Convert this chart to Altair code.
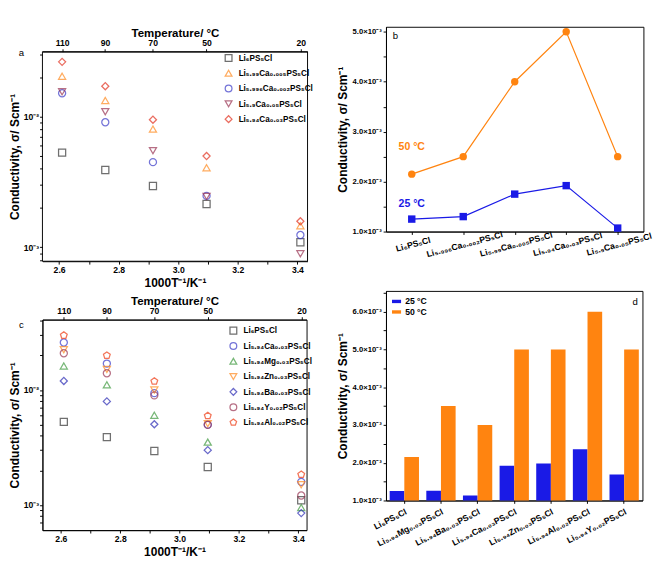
import altair as alt
import pandas as pd

FONT = "Liberation Sans"

# ---------------- data ----------------
inv_T = [2.610, 2.755, 2.915, 3.095, 3.410]          # 1000/T (K^-1)
temp_ticks = [2.610, 2.754, 2.914, 3.095, 3.411]     # positions of 110, 90, 70, 50, 20 °C

# panel a
a_names = ["Li₆PS₅Cl", "Li₅.₉₉Ca₀.₀₀₅PS₅Cl", "Li₅.₉₉₆Ca₀.₀₀₂PS₅Cl",
           "Li₅.₉Ca₀.₀₅PS₅Cl", "Li₅.₉₄Ca₀.₀₃PS₅Cl"]
a_li6 = [5.30e-3, 3.90e-3, 2.94e-3, 2.14e-3, 1.09e-3]
a_ca0005 = [2.04e-2, 1.33e-2, 8.03e-3, 4.06e-3, 1.46e-3]
a_ca0002 = [1.51e-2, 9.06e-3, 4.48e-3, 2.47e-3, 1.24e-3]
a_ca005 = [1.55e-2, 1.09e-2, 5.48e-3, 2.45e-3, 8.9e-4]
a_ca003 = [2.63e-2, 1.71e-2, 9.47e-3, 4.99e-3, 1.58e-3]
a_colors = ["#333333", "#ff8a1e", "#3a3ac8", "#993352", "#e2301e"]
a_shapes = ["square", "triangle-up", "circle", "triangle-down", "diamond"]

# panel c
c_names = ["Li₆PS₅Cl", "Li₅.₉₄Ca₀.₀₃PS₅Cl", "Li₅.₉₄Mg₀.₀₃PS₅Cl", "Li₅.₉₄Zn₀.₀₃PS₅Cl",
           "Li₅.₉₄Ba₀.₀₃PS₅Cl", "Li₅.₉₄Y₀.₀₂PS₅Cl", "Li₅.₉₄Al₀.₀₂PS₅Cl"]
c_li6 = [5.29e-3, 3.89e-3, 2.95e-3, 2.14e-3, 1.10e-3]
c_ca = [2.59e-2, 1.70e-2, 9.4e-3, 5.0e-3, 1.59e-3]
c_mg = [1.62e-2, 1.11e-2, 6.04e-3, 3.52e-3, 9.5e-4]
c_zn = [2.24e-2, 1.51e-2, 1.0e-2, 5.1e-3, 1.50e-3]
c_ba = [1.20e-2, 7.97e-3, 5.04e-3, 3.0e-3, 8.5e-4]
c_y = [2.09e-2, 1.40e-2, 8.99e-3, 4.98e-3, 1.21e-3]
c_al = [2.99e-2, 2.0e-2, 1.19e-2, 5.97e-3, 1.84e-3]
c_colors = ["#333333", "#3a3ac8", "#3f9a3f", "#ff8a1e", "#2a2ab4", "#993352", "#ee3a12"]
PENT = "M0,-1L0.951,-0.309L0.588,0.809L-0.588,0.809L-0.951,-0.309Z"
c_shapes = ["square", "circle", "triangle-up", "triangle-down", "diamond", "circle", PENT]

# panel b
b_cats = ["Li₆PS₅Cl", "Li₅.₉₉₆Ca₀.₀₀₂PS₅Cl", "Li₅.₉₉Ca₀.₀₀₅PS₅Cl",
          "Li₅.₉₄Ca₀.₀₃PS₅Cl", "Li₅.₉Ca₀.₀₅PS₅Cl"]
b_50 = [2.15e-3, 2.50e-3, 4.00e-3, 5.00e-3, 2.50e-3]
b_25 = [1.25e-3, 1.30e-3, 1.75e-3, 1.92e-3, 1.07e-3]
b_temps = ["25 °C", "50 °C"]
b_label_y = [1.54e-3, 2.70e-3]

# panel d
d_cats = ["Li₆PS₅Cl", "Li₅.₉₄Mg₀.₀₃PS₅Cl", "Li₅.₉₄Ba₀.₀₃PS₅Cl", "Li₅.₉₄Ca₀.₀₃PS₅Cl",
          "Li₅.₉₄Zn₀.₀₃PS₅Cl", "Li₅.₉₄Al₀.₀₂PS₅Cl", "Li₅.₉₄Y₀.₀₂PS₅Cl"]
d_25 = [1.25e-3, 1.26e-3, 1.13e-3, 1.92e-3, 1.98e-3, 2.36e-3, 1.69e-3]
d_50 = [2.15e-3, 3.50e-3, 3.00e-3, 5.00e-3, 5.00e-3, 6.00e-3, 5.00e-3]
d_temps = ["25 °C", "50 °C"]

ORANGE = "#ff8410"
BLUE = "#1a1ae6"
YTITLE = "Conductivity, σ/ Scm⁻¹"


def indep(ch):
    return ch.resolve_scale(color="independent", shape="independent").resolve_legend(
        color="independent", shape="independent")


def long_df(names, series):
    rows = []
    for n, vals in zip(names, series):
        for x, v in zip(inv_T, vals):
            rows.append({"series": n, "x": x, "y": v})
    return pd.DataFrame(rows)


def arrhenius(df, names, colors, shapes, ydom, xdom, w, h, letter, leg_top, letter_y, inset=0):
    """inset > 0: the top axis is drawn inside the view, `inset` px below its top edge."""
    xticks = [2.6, 2.7, 2.8, 2.9, 3.0, 3.1, 3.2, 3.3, 3.4]
    ylog = [6e-4, 7e-4, 8e-4, 9e-4, 1e-3, 2e-3, 3e-3, 4e-3, 5e-3, 6e-3, 7e-3, 8e-3, 9e-3,
            1e-2, 2e-2, 3e-2, 4e-2]
    ytop_frame = ydom[2] if len(ydom) > 2 else ydom[1]
    ylog = [v for v in ylog if ydom[0] <= v <= ytop_frame]
    leg_offset = -6
    leg = alt.Legend(orient="top-right", offset=leg_offset, labelFontSize=8.5,
                     labelFont=FONT, labelFontWeight="bold", symbolSize=50, symbolStrokeWidth=1.3,
                     rowPadding=3, padding=0, labelLimit=200, labelOffset=6,
                     title=" ", titleFontSize=10, titlePadding=inset + leg_top - leg_offset - 10)
    yaxis = dict(values=ylog, title=YTITLE, titlePadding=2, labelPadding=1,
                 labelExpr="abs(datum.value-0.01)<1e-6 ? '10⁻²' : abs(datum.value-0.001)<1e-7 ? '10⁻³' : ''")
    if inset:
        yaxis.update(domain=False, titleY=(inset + h) / 2)
    pts = alt.Chart(df).mark_point(filled=False, size=55, strokeWidth=1.3, clip=True).encode(
        x=alt.X("x:Q", scale=alt.Scale(domain=xdom, nice=False, zero=False),
                axis=alt.Axis(values=xticks, title="1000T⁻¹/K⁻¹", titlePadding=2,
                              labelExpr="round(datum.value*10)%2==0 ? format(datum.value,'.1f') : ''")),
        y=alt.Y("y:Q", scale=alt.Scale(type="log", domain=[ydom[0], ydom[1]], nice=False),
                axis=alt.Axis(**yaxis)),
        color=alt.Color("series:N", scale=alt.Scale(domain=names, range=colors), legend=leg),
        shape=alt.Shape("series:N", scale=alt.Scale(domain=names, range=shapes), legend=leg),
    )
    top = alt.Chart(pd.DataFrame({"x": temp_ticks})).mark_rule(strokeOpacity=0).encode(
        x=alt.X("x:Q", scale=alt.Scale(domain=xdom, nice=False, zero=False),
                axis=alt.Axis(orient="top", values=temp_ticks, title="Temperature/ °C",
                              titlePadding=0, labelPadding=1, titleFontSize=12, offset=-inset,
                              labelExpr="round(1000/datum.value-273.15)"))
    )
    lab = alt.Chart(pd.DataFrame({"t": [letter]})).mark_text(
        font=FONT, fontSize=10, align="center", baseline="middle").encode(
        text="t:N", x=alt.value(-22), y=alt.value(letter_y + inset))
    layers = [pts, top, lab]
    props = dict(width=w, height=h)
    if inset:
        frame = alt.Chart(pd.DataFrame({"f": [0]})).mark_rect(
            fillOpacity=0, stroke="black", strokeWidth=1).encode(
            x=alt.value(0), x2=alt.value(w), y=alt.value(inset), y2=alt.value(h))
        layers.append(frame)
        props["view"] = alt.ViewBackground(stroke="transparent")
    return alt.layer(*layers).resolve_scale(x="independent").properties(**props)


# panel a: log domain [bottom, top of view, top of frame]
A_INSET = 26
dfa = long_df(a_names, [a_li6, a_ca0005, a_ca0002, a_ca005, a_ca003])
chart_a = arrhenius(dfa, a_names, a_colors, a_shapes, [7.8e-4, 4.88e-2, 3.06e-2], [2.544, 3.434],
                    277, 219 + A_INSET, "a", 2, 2, inset=A_INSET)

dfc = long_df(c_names, [c_li6, c_ca, c_mg, c_zn, c_ba, c_y, c_al])
chart_c = arrhenius(dfc, c_names, c_colors, c_shapes, [6.04e-4, 4.1e-2], [2.538, 3.428],
                    276, 220, "c", 7, 6)

# ---------------- panel b ----------------
brows = []
for t, vals in zip(b_temps, [b_25, b_50]):
    for cat, v in zip(b_cats, vals):
        brows.append({"cat": cat, "temp": t, "val": v})
dfb = pd.DataFrame(brows)
blab = pd.DataFrame({"cat": [b_cats[0]] * 2, "temp": b_temps, "val": b_label_y})

bx = alt.X("cat:N", sort=b_cats, scale=alt.Scale(type="point", padding=0.5),
           axis=alt.Axis(title=None, labelAngle=345, labelAlign="center", labelBaseline="top",
                         labelFontSize=9, labelPadding=6))
by = alt.Y("val:Q", scale=alt.Scale(domain=[1e-3, 5.1e-3], nice=False, zero=False),
           axis=alt.Axis(title=YTITLE, values=[1e-3, 1.5e-3, 2e-3, 2.5e-3, 3e-3, 3.5e-3, 4e-3, 4.5e-3, 5e-3],
                         labelFontSize=8,
                         labelExpr="round(datum.value*2000)%2==0 ? format(datum.value*1000,'.1f')+'×10⁻³' : ''"))
bcol = alt.Color("temp:N", scale=alt.Scale(domain=b_temps, range=[BLUE, ORANGE]), legend=None)
b_lines = alt.Chart(dfb).mark_line(strokeWidth=1.2).encode(x=bx, y=by, color=bcol)
b_pts = alt.Chart(dfb).mark_point(filled=True, size=60, opacity=1).encode(
    x=bx, y=by, color=bcol,
    shape=alt.Shape("temp:N", scale=alt.Scale(domain=b_temps, range=["square", "circle"]), legend=None))
b_txt = alt.Chart(blab).mark_text(font=FONT, fontSize=11, fontWeight="bold").encode(
    x=bx, y=by, color=bcol, text="temp:N")
b_letter = alt.Chart(pd.DataFrame({"t": ["b"]})).mark_text(
    font=FONT, fontSize=10, align="left", baseline="top").encode(text="t:N", x=alt.value(7), y=alt.value(5))
chart_b = alt.layer(b_lines, b_pts, b_txt, b_letter).properties(width=269, height=214)

# ---------------- panel d ----------------
drows = []
for t, vals in zip(d_temps, [d_25, d_50]):
    for cat, v in zip(d_cats, vals):
        drows.append({"cat": cat, "temp": t, "val": v})
dfd = pd.DataFrame(drows)
RECT = "M-1,-0.37H1V0.37H-1Z"
d_bars = alt.Chart(dfd).mark_bar(clip=True).encode(
    x=alt.X("cat:N", sort=d_cats, scale=alt.Scale(paddingInner=0.2, paddingOuter=0.1),
            axis=alt.Axis(title=None, labelAngle=333, labelFontSize=9, labelPadding=4)),
    xOffset=alt.XOffset("temp:N", sort=d_temps),
    y=alt.Y("val:Q", scale=alt.Scale(domain=[1e-3, 6.55e-3], nice=False, zero=False),
            axis=alt.Axis(title=YTITLE, labelFontSize=8,
                          values=[1e-3, 1.5e-3, 2e-3, 2.5e-3, 3e-3, 3.5e-3, 4e-3, 4.5e-3, 5e-3, 5.5e-3, 6e-3, 6.5e-3],
                          labelExpr="round(datum.value*2000)%2==0 ? format(datum.value*1000,'.1f')+'×10⁻³' : ''")),
    color=alt.Color("temp:N", scale=alt.Scale(domain=d_temps, range=[BLUE, ORANGE]),
                    legend=alt.Legend(title=None, orient="top-left", offset=6, symbolType=RECT,
                                      symbolSize=90, symbolStrokeWidth=0, labelFontSize=9, labelOffset=4,
                                      labelFont=FONT, labelFontWeight="bold", rowPadding=1, padding=0)),
)
d_letter = alt.Chart(pd.DataFrame({"t": ["d"]})).mark_text(
    font=FONT, fontSize=10, align="right", baseline="top").encode(text="t:N", x=alt.value(263), y=alt.value(7))
chart_d = alt.layer(d_bars, d_letter).properties(width=268, height=219)

col1 = indep(alt.vconcat(chart_a, chart_c, spacing=5))
col2 = indep(alt.vconcat(chart_b, chart_d, spacing=32))
chart = indep(alt.hconcat(col1, col2, spacing=23)).properties(
    padding={"left": 0, "top": 0, "right": 0, "bottom": 0}
).configure_view(stroke="black", strokeWidth=1).configure_axis(
    grid=False, domainColor="black", tickColor="black", tickSize=3,
    labelFont=FONT, labelFontWeight="bold", labelFontSize=9, labelColor="black", labelPadding=2,
    titleFont=FONT, titleFontWeight="bold", titleFontSize=12.5, titleColor="black", titlePadding=3,
).configure_legend(labelColor="black")

chart.save("out.html", embed_options={"renderer": "svg", "actions": False})
